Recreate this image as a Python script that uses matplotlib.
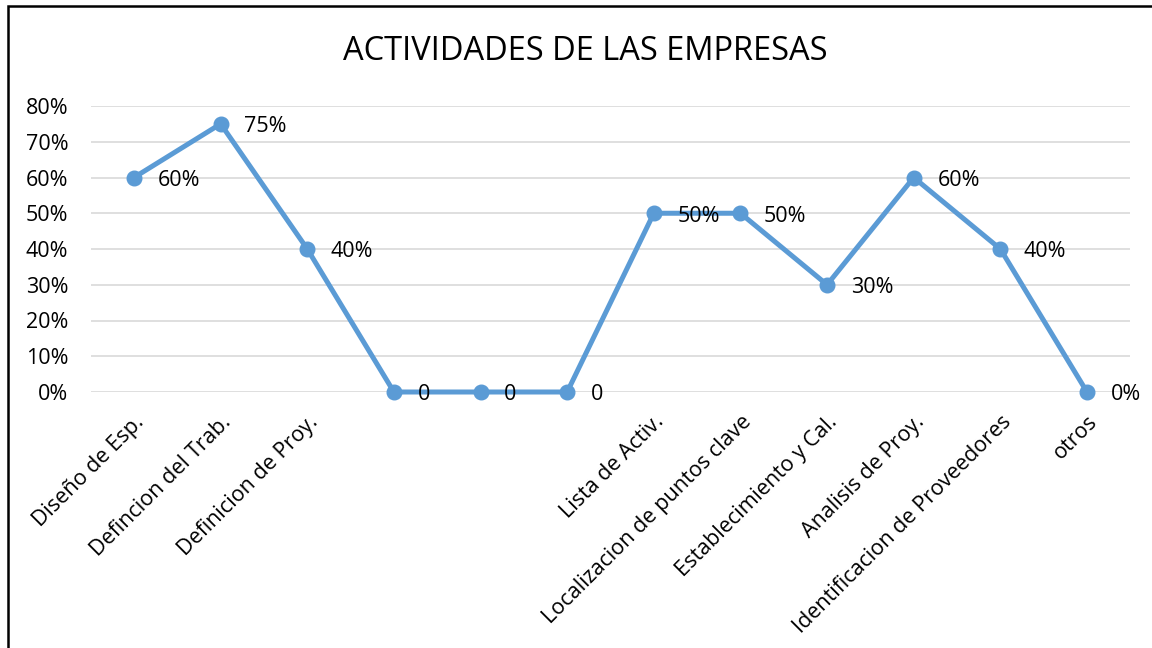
import matplotlib
matplotlib.use("Agg")
import matplotlib.pyplot as plt
from matplotlib.patches import Rectangle
from matplotlib.ticker import FuncFormatter

categories = ["Diseño de Esp.", "Defincion del Trab.", "Definicion de Proy.", "", "", "",
              "Lista de Activ.", "Localizacion de puntos clave", "Establecimiento y Cal.",
              "Analisis de Proy.", "Identificacion de Proveedores", "otros"]
values = [0.60, 0.75, 0.40, 0.0, 0.0, 0.0, 0.50, 0.50, 0.30, 0.60, 0.40, 0.0]
point_labels = ["60%", "75%", "40%", "0", "0", "0", "50%", "50%", "30%", "60%", "40%", "0%"]
yticks = [0, 0.1, 0.2, 0.3, 0.4, 0.5, 0.6, 0.7, 0.8]
title = "ACTIVIDADES DE LAS EMPRESAS"

plt.rcParams['font.family'] = ['Open Sans', 'DejaVu Sans']

W, H = 1152, 648
fig = plt.figure(figsize=(W/100, H/100), dpi=100)
ax = fig.add_axes([90.7/W, 1-392/H, (1130.3-90.7)/W, (392-106)/H])

x = list(range(len(categories)))
color = "#5B9BD5"
ax.plot(x, values, color=color, linewidth=3.6, marker='o', markersize=10.5,
        solid_capstyle='round', zorder=3, clip_on=False)
for xi, v, lab in zip(x, values, point_labels):
    ax.annotate(lab, (xi, v), xytext=(17, -2), textcoords='offset points',
                ha='left', va='center', fontsize=15.5, color='#000000', zorder=4)

ax.set_xlim(-0.5, len(categories) - 0.5)
ax.set_ylim(0, 0.8)
ax.set_yticks(yticks)
ax.yaxis.set_major_formatter(FuncFormatter(lambda v, p: f"{v*100:.0f}%"))
ax.grid(axis='y', color='#D9D9D9', linewidth=1.2, zorder=0)
ax.set_axisbelow(True)
for s in ax.spines.values():
    s.set_visible(False)
ax.tick_params(axis='both', length=0, labelsize=15.5, colors='#000000')
ax.tick_params(axis='y', pad=16)
ax.set_xticks(x)
ax.set_xticklabels(categories, rotation=45, ha='right', rotation_mode='anchor')
ax.tick_params(axis='x', pad=14)

fig.text(585/W, 1-52/H, title, ha='center', va='center', fontsize=23.5, color='#000000')

fig.patches.append(Rectangle((8/W, -0.1), 1.2, (1-6/H) + 0.1, transform=fig.transFigure,
                             fill=False, edgecolor='#000000', linewidth=1.8))

fig.savefig("out.png", dpi=100)
